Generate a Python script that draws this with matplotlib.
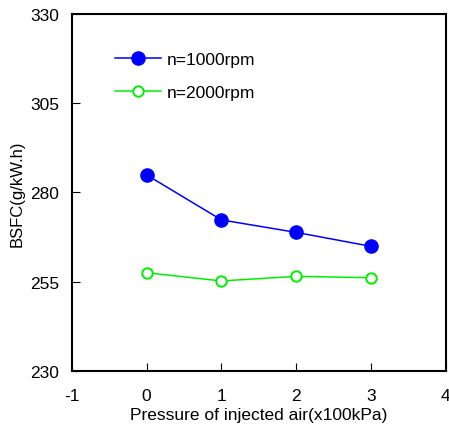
import matplotlib
matplotlib.use("Agg")
import matplotlib.pyplot as plt

plt.rcParams['font.family'] = ['Liberation Sans', 'DejaVu Sans']
plt.rcParams['axes.unicode_minus'] = False

pressure = [0, 1, 2, 3]
bsfc_1000 = [284.9, 272.3, 268.8, 264.9]
bsfc_2000 = [257.5, 255.2, 256.5, 256.1]
x_ticks = [-1, 0, 1, 2, 3, 4]
y_ticks = [230, 255, 280, 305, 330]

fig = plt.figure(figsize=(4.49, 4.27), dpi=100)
ax = fig.add_axes([0.160, 0.129, 0.833, 0.836])

ax.plot(pressure, bsfc_1000, color='#0000ff', lw=1.1, marker='o', ms=9.5,
        mfc='#0000ff', mec='#0000ff', label='n=1000rpm')
ax.plot(pressure, bsfc_2000, color='#00ee00', lw=1.1, marker='o', ms=7.5,
        mfc='white', mec='#00ee00', mew=1.4, label='n=2000rpm')

ax.set_xlim(-1, 4)
ax.set_ylim(230, 330)
ax.set_xticks(x_ticks)
ax.set_yticks(y_ticks)
ax.tick_params(direction='in', length=6, width=0.8, labelsize=12.5,
               top=False, right=False)
ax.tick_params(axis='y', pad=9)
ax.tick_params(axis='x', pad=12)
for s in ax.spines.values():
    s.set_linewidth(1.5)

ax.set_xlabel('Pressure of injected air(x100kPa)', fontsize=12.5, labelpad=3)
ax.set_ylabel('BSFC(g/kW.h)', fontsize=12, labelpad=4)

ax.legend(loc='upper left', bbox_to_anchor=(0.098, 0.912), frameon=False,
          fontsize=12.5, handlelength=2.6, handletextpad=0.35, labelspacing=1.0,
          borderaxespad=0)

fig.savefig('out.png', dpi=100)
